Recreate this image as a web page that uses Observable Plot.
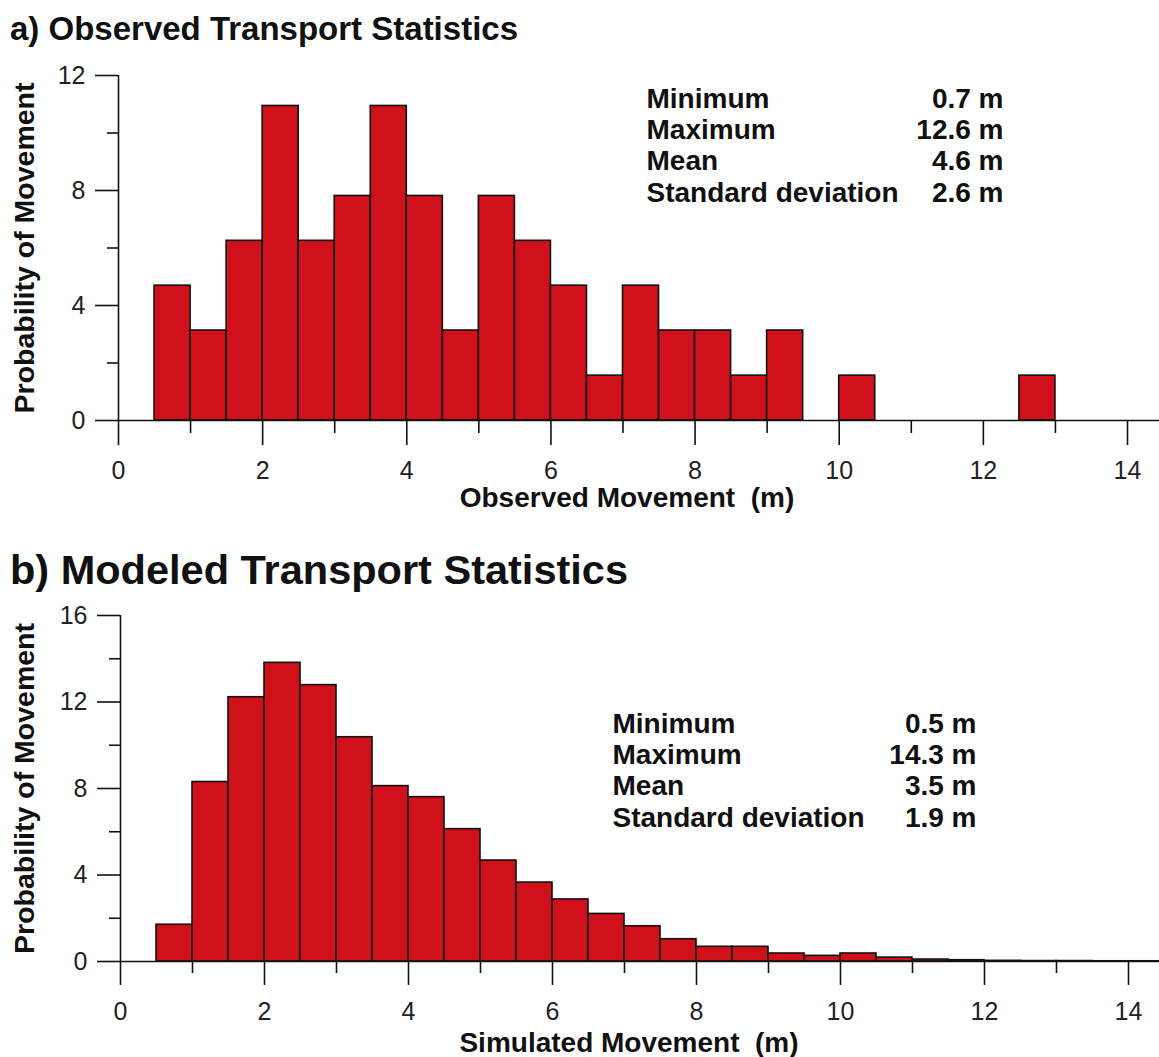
<!DOCTYPE html>
<html>
<head>
<meta charset="utf-8">
<script src="https://cdn.jsdelivr.net/npm/d3@7"></script>
<script src="https://cdn.jsdelivr.net/npm/@observablehq/plot@0.6"></script>
<style>
  html, body { margin: 0; padding: 0; background: #ffffff; }
  body { width: 1159px; height: 1057px; position: relative; overflow: hidden; font-family: "Liberation Sans", Arial, sans-serif; }
  .title { position: absolute; font-weight: bold; color: #111; white-space: nowrap; }
  #titleA { left: 10px; top: 12px; font-size: 33px; line-height: 33px; }
  #titleB { left: 10px; top: 549px; font-size: 41.5px; line-height: 42px; }
  #plotA { position: absolute; left: 0; top: 50px; }
  #plotB { position: absolute; left: 0; top: 595px; }
</style>
</head>
<body>
<div id="titleA" class="title">a) Observed Transport Statistics</div>
<div id="titleB" class="title">b) Modeled Transport Statistics</div>
<div id="plotA"></div>
<div id="plotB"></div>
<script>
// ---- data ----
const binWidth = 0.5;
// Observed: bin starts (m) and probability (%)
const obsBinStart = [0.5, 1.0, 1.5, 2.0, 2.5, 3.0, 3.5, 4.0, 4.5, 5.0, 5.5, 6.0, 6.5, 7.0, 7.5, 8.0, 8.5, 9.0, 9.5, 10.0, 10.5, 11.0, 11.5, 12.0, 12.5];
const obsProb     = [4.69, 3.13, 6.25, 10.94, 6.25, 7.81, 10.94, 7.81, 3.13, 7.81, 6.25, 4.69, 1.56, 4.69, 3.13, 3.13, 1.56, 3.13, 0, 1.56, 0, 0, 0, 0, 1.56];
// Simulated
const simBinStart = [0.5, 1.0, 1.5, 2.0, 2.5, 3.0, 3.5, 4.0, 4.5, 5.0, 5.5, 6.0, 6.5, 7.0, 7.5, 8.0, 8.5, 9.0, 9.5, 10.0, 10.5, 11.0, 11.5, 12.0, 12.5, 13.0, 13.5, 14.0];
const simProb     = [1.7, 8.3, 12.22, 13.81, 12.78, 10.37, 8.11, 7.6, 6.12, 4.67, 3.65, 2.87, 2.2, 1.63, 1.03, 0.68, 0.68, 0.37, 0.26, 0.37, 0.18, 0.09, 0.06, 0.03, 0.02, 0.02, 0.01, 0.01];

// axis ticks
const xMajorTicks = [0, 2, 4, 6, 8, 10, 12, 14];
const xMinorTicks = [1, 3, 5, 7, 9, 11, 13];
const yMajorTicksA = [0, 4, 8, 12];
const yMinorTicksA = [2, 6, 10];
const yMajorTicksB = [0, 4, 8, 12, 16];
const yMinorTicksB = [2, 6, 10, 14];

// texts
const yLabel = "Probability of Movement";
const xLabelA = "Observed Movement\u00a0\u00a0(m)";
const xLabelB = "Simulated Movement\u00a0\u00a0(m)";
const statNames = ["Minimum", "Maximum", "Mean", "Standard deviation"];
const statsA = ["0.7 m", "12.6 m", "4.6 m", "2.6 m"];
const statsB = ["0.5 m", "14.3 m", "3.5 m", "1.9 m"];

const barFill = "#d0111c";

function makeBins(starts, probs) {
  return starts.map((s, i) => ({x1: s, x2: s + binWidth, p: probs[i]})).filter(d => d.p > 0);
}

function histogram(opts) {
  const {bins, yMax, yMajor, yMinor, height, marginTop, marginBottom, marginLeft, xRange,
         xLabel, stats, statDy, statLabelDx, statValueDx, xTickPad, xLabelDy, xLabelDx, yLabelDx, majorLen, minorLen} = opts;
  return Plot.plot({
    width: 1159,
    height,
    marginLeft,
    marginRight: 0,
    marginTop,
    marginBottom,
    style: {fontFamily: "Liberation Sans, Arial, sans-serif", fontSize: "25px", color: "#111", background: "transparent", overflow: "visible"},
    x: {domain: [0, 14], range: xRange},
    y: {domain: [0, yMax]},
    marks: [
      Plot.rectY(bins, {x1: "x1", x2: "x2", y: "p", fill: barFill, stroke: "#111", strokeWidth: 1.6}),
      Plot.ruleY([0], {stroke: "#111", strokeWidth: 1.6}),
      Plot.ruleX([0], {stroke: "#111", strokeWidth: 1.6}),
      Plot.axisY(yMajor, {tickSize: 23, tickPadding: 10, strokeWidth: 1.6, fill: "#222", label: null}),
      Plot.axisY(yMinor, {tickSize: 11, text: null, strokeWidth: 1.6, label: null}),
      Plot.axisX(xMajorTicks, {tickSize: majorLen, tickPadding: xTickPad, strokeWidth: 1.6, fill: "#222", label: null}),
      Plot.axisX(xMinorTicks, {tickSize: minorLen, text: null, strokeWidth: 1.6, label: null}),
      Plot.text([yLabel], {frameAnchor: "left", rotate: -90, dx: yLabelDx, lineAnchor: "middle", textAnchor: "middle",
        fontWeight: "bold", fontSize: 28.5, fill: "#111"}),
      Plot.text([xLabel], {frameAnchor: "bottom", dx: xLabelDx, dy: xLabelDy, lineAnchor: "middle", textAnchor: "middle",
        fontWeight: "bold", fontSize: 28, fill: "#111"}),
      Plot.text([statNames.join("\n")], {frameAnchor: "top-left", dx: statLabelDx, dy: statDy, lineAnchor: "top", textAnchor: "start",
        fontWeight: "bold", fontSize: 28, lineHeight: 1.12, fill: "#111"}),
      Plot.text([stats.join("\n")], {frameAnchor: "top-left", dx: statValueDx, dy: statDy, lineAnchor: "top", textAnchor: "end",
        fontWeight: "bold", fontSize: 28, lineHeight: 1.12, fill: "#111"})
    ]
  });
}

document.getElementById("plotA").append(histogram({
  bins: makeBins(obsBinStart, obsProb), yMax: 12, yMajor: yMajorTicksA, yMinor: yMinorTicksA,
  height: 480, marginTop: 25, marginBottom: 110, marginLeft: 118, xRange: [118, 1127],
  xLabel: xLabelA, stats: statsA, statDy: 10, statLabelDx: 528, statValueDx: 885,
  xTickPad: 16, xLabelDy: 78, xLabelDx: -12, yLabelDx: -94, majorLen: 25, minorLen: 13
}));

document.getElementById("plotB").append(histogram({
  bins: makeBins(simBinStart, simProb), yMax: 16, yMajor: yMajorTicksB, yMinor: yMinorTicksB,
  height: 462, marginTop: 20, marginBottom: 96, marginLeft: 120, xRange: [120, 1128],
  xLabel: xLabelB, stats: statsB, statDy: 95, statLabelDx: 492, statValueDx: 856,
  xTickPad: 17, xLabelDy: 82, xLabelDx: -11, yLabelDx: -96, majorLen: 24, minorLen: 12
}));
</script>
</body>
</html>
